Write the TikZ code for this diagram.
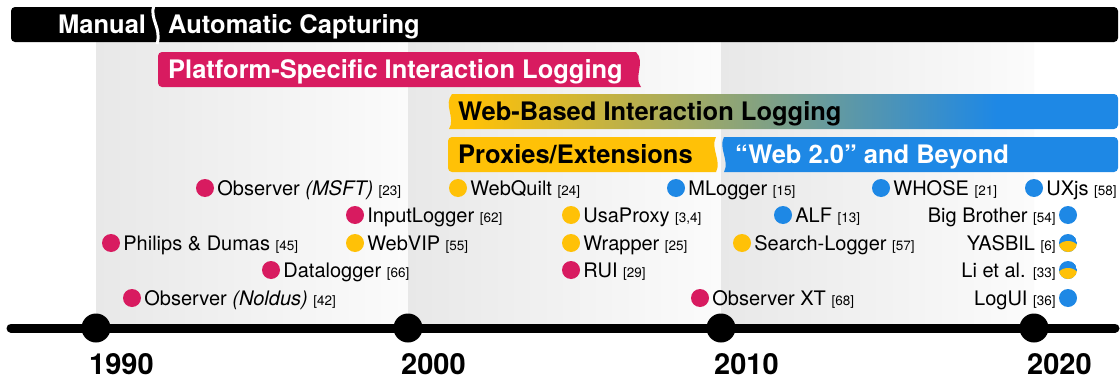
\documentclass[tikz,border=0pt]{standalone}
\usepackage{fontspec}
\setmainfont{TeX Gyre Heros}
\definecolor{pinkc}{RGB}{216,27,96}
\definecolor{yellc}{RGB}{255,193,7}
\definecolor{bluec}{RGB}{30,136,229}
\pgfdeclarehorizontalshading{webgrad}{100bp}{color(0bp)=(yellc); color(27bp)=(yellc); color(66bp)=(bluec); color(100bp)=(bluec)}
\newcommand\rf[1]{{\fontsize{13.5}{15}\selectfont[#1]}}
\tikzset{
  dotc/.style={circle, minimum size=18pt, inner sep=0pt, draw=none},
  lab/.style={inner sep=0pt, font=\fontsize{20}{24}\selectfont},
  bartxt/.style={inner sep=0pt, font=\fontsize{25.5}{30}\selectfont\bfseries},
  yeartxt/.style={inner sep=0pt, font=\fontsize{29}{34}\selectfont\bfseries},
  band/.style={left color=gray!18, right color=gray!3, draw=none},
  tick/.style={circle, fill=black, minimum size=29pt, inner sep=0pt},
  twotone/.style={dotc, path picture={\fill[bluec] (path picture bounding box.center) circle (9pt);
     \fill[yellc] ([yshift=-12pt]path picture bounding box.center) circle (14pt);}},
}
\begin{document}
\begin{tikzpicture}[x=1pt,y=-1pt]
\useasboundingbox (0,0) rectangle (1120,380);
% background bands
\shade[band] (96,42) rectangle (408,328);
\shade[band] (408,42) rectangle (721,328);
\shade[band] (721,42) rectangle (1034,328);
% top black bar
\fill[black, rounded corners=4] (11,7) rectangle (1118,42);
\draw[white, line width=3] (154,5) .. controls (149,19) and (162,28) .. (157,44);
\node[bartxt, text=white, anchor=base west] (man) at (58,33) {Manual};
\node[bartxt, text=white, anchor=base west] (aut) at (168,33) {Automatic Capturing};
% platform-specific bar
\fill[pinkc] (641,87) .. controls (633,77) and (646,62) .. (636,52) [rounded corners=4] -- (158,52) -- (158,87) [sharp corners] -- cycle;
\node[bartxt, text=white, anchor=base west] (plat) at (168,78) {Platform-Specific Interaction Logging};
% web-based bar
\shade[shading=webgrad] (452,94) .. controls (443,105) and (456,118) .. (449,129) [rounded corners=4] -- (1118,129) -- (1118,94) [sharp corners] -- cycle;
\node[bartxt, text=black, anchor=base west] (webb) at (458,120) {Web-Based Interaction Logging};
% proxies bar
\fill[yellc] (716,137) .. controls (710,148) and (722,161) .. (716,172) [rounded corners=4] -- (448,172) -- (448,137) [sharp corners] -- cycle;
\node[bartxt, text=black, anchor=base west] (prox) at (458,163) {Proxies/Extensions};
% web 2.0 bar
\fill[bluec] (724,137) .. controls (718,148) and (730,161) .. (724,172) [rounded corners=4] -- (1118,172) -- (1118,137) [sharp corners] -- cycle;
\node[bartxt, text=white, anchor=base west] (web2) at (735,163) {“Web 2.0” and Beyond};
% timeline
\coordinate (tl0) at (11,328);
\coordinate (tl1) at (1115,328);
\draw[line width=9, line cap=round] (tl0) -- (tl1);
\node[tick] (k1) at (96,328) {};
\node[tick] (k2) at (408,328) {};
\node[tick] (k3) at (721,328) {};
\node[tick] (k4) at (1034,328) {};
\node[yeartxt, anchor=base west] (y1) at (89,374) {1990};
\node[yeartxt, anchor=base west] (y2) at (401,374) {2000};
\node[yeartxt, anchor=base west] (y3) at (714,374) {2010};
\node[yeartxt, anchor=base west] (y4) at (1027,374) {2020};
% entries (dot left of label)
\node[dotc, fill=pinkc] (d1) at (205,188) {};
\node[lab, anchor=base west] (t1) at ([xshift=3pt,yshift=-7.5pt]d1.east) {Observer \textit{(MSFT)} \rf{23}};
\node[dotc, fill=pinkc] (d2) at (355,215) {};
\node[lab, anchor=base west] (t2) at ([xshift=3pt,yshift=-7.5pt]d2.east) {InputLogger \rf{62}};
\node[dotc, fill=pinkc] (d3) at (111,243) {};
\node[lab, anchor=base west] (t3) at ([xshift=3pt,yshift=-7.5pt]d3.east) {Philips \& Dumas \rf{45}};
\node[dotc, fill=yellc] (d4) at (355,243) {};
\node[lab, anchor=base west] (t4) at ([xshift=3pt,yshift=-7.5pt]d4.east) {WebVIP \rf{55}};
\node[dotc, fill=pinkc] (d5) at (271,270) {};
\node[lab, anchor=base west] (t5) at ([xshift=3pt,yshift=-7.5pt]d5.east) {Datalogger \rf{66}};
\node[dotc, fill=pinkc] (d6) at (132,298) {};
\node[lab, anchor=base west] (t6) at ([xshift=3pt,yshift=-7.5pt]d6.east) {Observer \textit{(Noldus)} \rf{42}};
\node[dotc, fill=yellc] (d7) at (458,188) {};
\node[lab, anchor=base west] (t7) at ([xshift=3pt,yshift=-7.5pt]d7.east) {WebQuilt \rf{24}};
\node[dotc, fill=yellc] (d8) at (571,215) {};
\node[lab, anchor=base west] (t8) at ([xshift=3pt,yshift=-7.5pt]d8.east) {UsaProxy \rf{3,4}};
\node[dotc, fill=yellc] (d9) at (571,243) {};
\node[lab, anchor=base west] (t9) at ([xshift=3pt,yshift=-7.5pt]d9.east) {Wrapper \rf{25}};
\node[dotc, fill=pinkc] (d10) at (571,270) {};
\node[lab, anchor=base west] (t10) at ([xshift=3pt,yshift=-7.5pt]d10.east) {RUI \rf{29}};
\node[dotc, fill=bluec] (d11) at (676,188) {};
\node[lab, anchor=base west] (t11) at ([xshift=3pt,yshift=-7.5pt]d11.east) {MLogger \rf{15}};
\node[dotc, fill=pinkc] (d12) at (700,298) {};
\node[lab, anchor=base west] (t12) at ([xshift=3pt,yshift=-7.5pt]d12.east) {Observer XT \rf{68}};
\node[dotc, fill=bluec] (d13) at (783,215) {};
\node[lab, anchor=base west] (t13) at ([xshift=3pt,yshift=-7.5pt]d13.east) {ALF \rf{13}};
\node[dotc, fill=yellc] (d14) at (742,243) {};
\node[lab, anchor=base west] (t14) at ([xshift=3pt,yshift=-7.5pt]d14.east) {Search-Logger \rf{57}};
\node[dotc, fill=bluec] (d15) at (881,188) {};
\node[lab, anchor=base west] (t15) at ([xshift=3pt,yshift=-7.5pt]d15.east) {WHOSE \rf{21}};
\node[dotc, fill=bluec] (d16) at (1034,188) {};
\node[lab, anchor=base west] (t16) at ([xshift=3pt,yshift=-7.5pt]d16.east) {UXjs \rf{58}};
% entries (dot right of label)
\node[dotc, fill=bluec] (d17) at (1068,215) {};
\node[lab, anchor=base east] (t17) at ([xshift=-3pt,yshift=-7.5pt]d17.west) {Big Brother \rf{54}};
\node[twotone] (d18) at (1068,243) {};
\node[lab, anchor=base east] (t18) at ([xshift=-3pt,yshift=-7.5pt]d18.west) {YASBIL \rf{6}};
\node[twotone] (d19) at (1068,270) {};
\node[lab, anchor=base east] (t19) at ([xshift=-3pt,yshift=-7.5pt]d19.west) {Li et al. \rf{33}};
\node[dotc, fill=bluec] (d20) at (1068,298) {};
\node[lab, anchor=base east] (t20) at ([xshift=-3pt,yshift=-7.5pt]d20.west) {LogUI \rf{36}};
\end{tikzpicture}
\end{document}
